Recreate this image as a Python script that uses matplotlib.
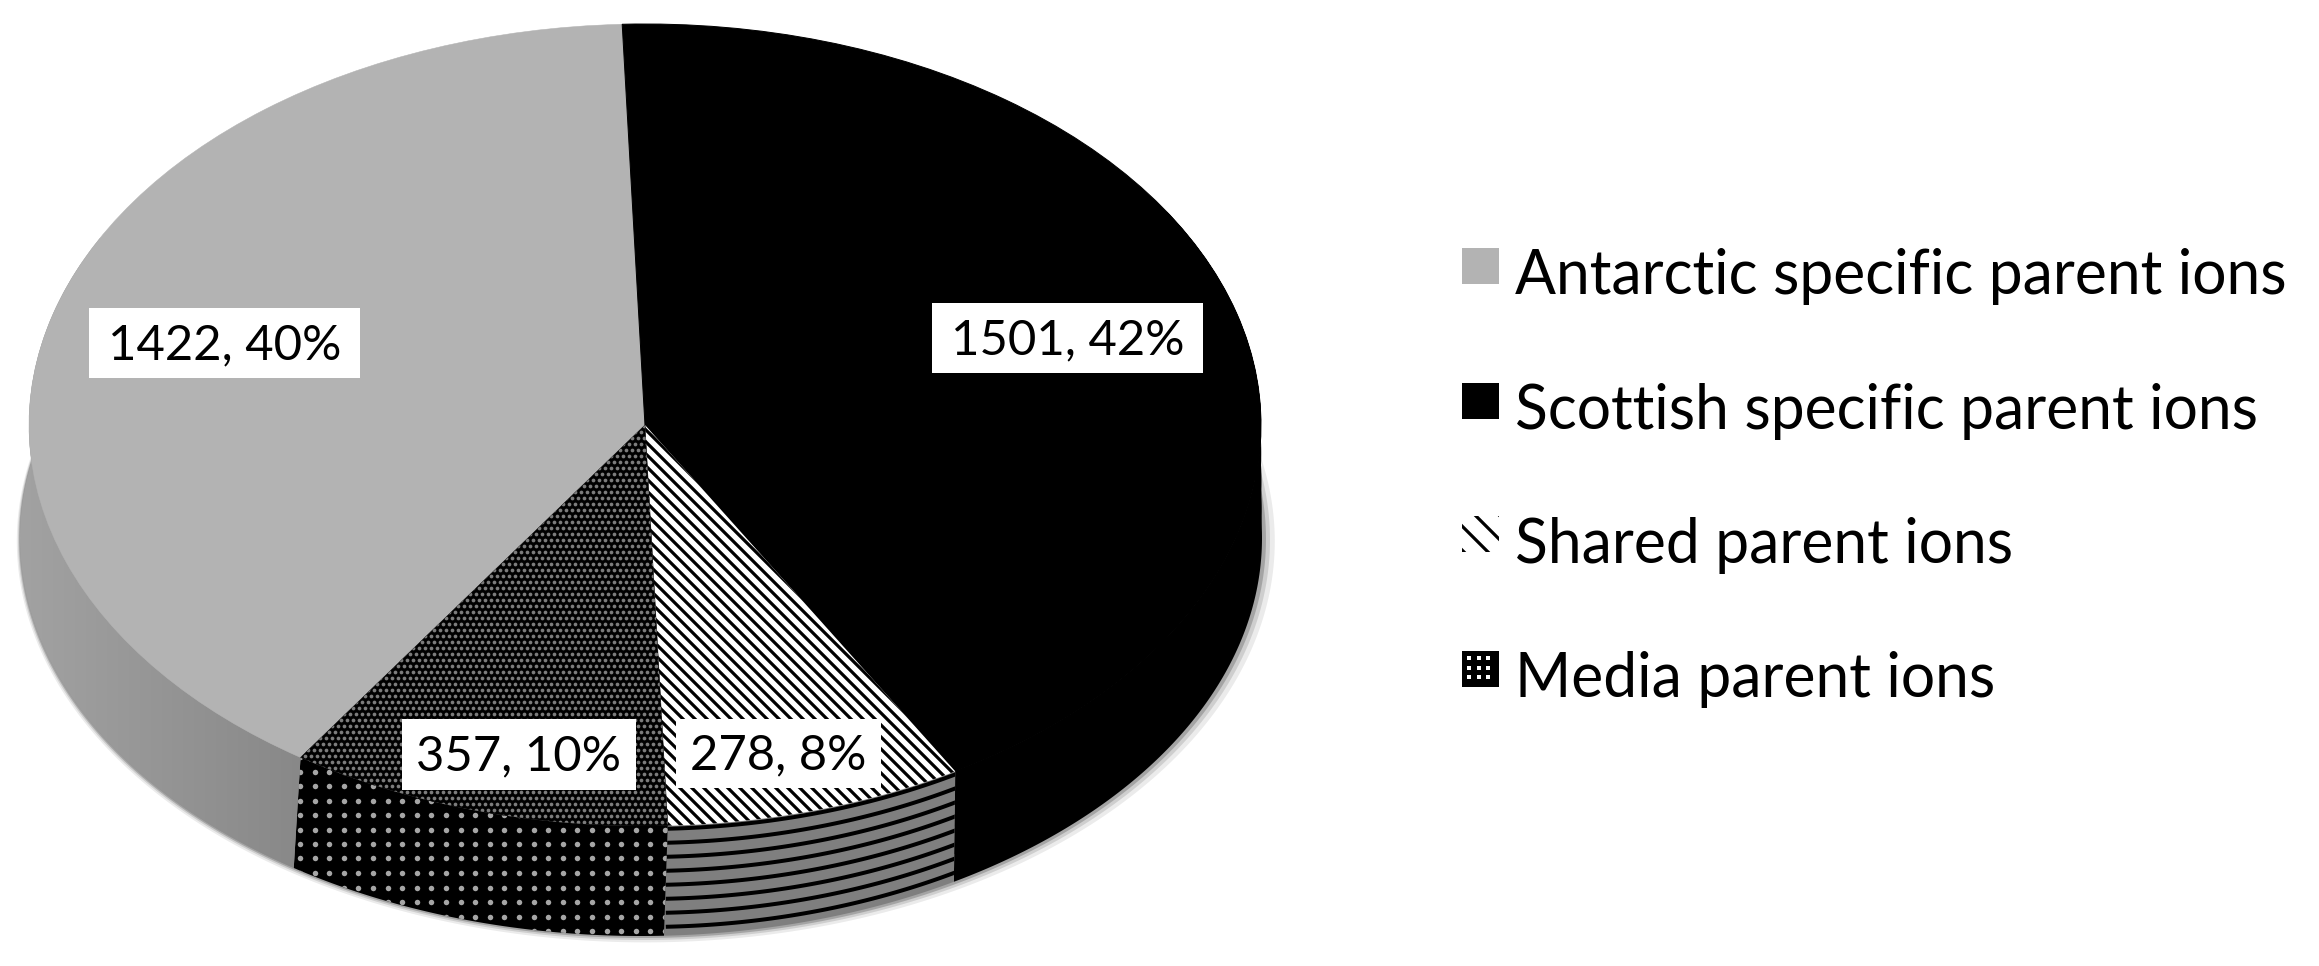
import numpy as np
import matplotlib
matplotlib.use("Agg")
import matplotlib.pyplot as plt
from matplotlib.colors import LinearSegmentedColormap
from matplotlib.patches import Rectangle

names = ["Antarctic specific parent ions", "Scottish specific parent ions",
         "Shared parent ions", "Media parent ions"]
counts = [1422, 1501, 278, 357]
percents = [40, 42, 8, 10]

W, H = 2319, 966
DPI = 72
cx, cy, rx, ry = 645, 425, 616, 401
# bottom rim of the disc
bx0, by0, brx, bry = 641, 538, 621, 398
start = 236

plt.rcParams["font.family"] = ["Lato", "DejaVu Sans"]
plt.rcParams["hatch.linewidth"] = 3.2

fig = plt.figure(figsize=(W / DPI, H / DPI), dpi=DPI, facecolor="white")
ax = fig.add_axes([0, 0, 1, 1])

# the pie itself, the axes limits squash the unit circle to an ellipse
wedges, _ = ax.pie(counts, startangle=start, counterclock=False, radius=1,
                   colors=["#b3b3b3", "#000000", "#ffffff", "#000000"])
wedges[0].set(edgecolor="#b3b3b3", linewidth=0.5)
wedges[1].set(edgecolor="black", linewidth=1)
wedges[2].set_hatch("\\\\")
wedges[2].set_edgecolor("black")
wedges[2].set_linewidth(0)
wedges[3].set(edgecolor="black", linewidth=0.5)
ax.axis("off")

# angles of the slices, from the counts
fracs = np.array(counts) / sum(counts) * 360
ends = start - np.cumsum(fracs)
starts = ends + fracs


def wall(a, b, f=1.0, **kw):
    # f is how far down the side the lower edge sits, 1 is the bottom rim
    t = np.radians(np.linspace(a, b, 200))
    lx = cx + f * (bx0 - cx) + (rx + f * (brx - rx)) * np.cos(t[::-1])
    ly = cy + f * (by0 - cy) - (ry + f * (bry - ry)) * np.sin(t[::-1])
    xs = np.r_[np.cos(t), (lx - cx) / rx]
    ys = np.r_[np.sin(t), (cy - ly) / ry]
    return ax.fill(xs, ys, zorder=0.5, lw=0, **kw)[0]


# soft shadow round the rim
t = np.radians(np.linspace(0, 360, 400))
for grow, alpha in [(8, 0.08), (5, 0.12), (2.5, 0.2)]:
    ax.fill((bx0 + grow * 0.6 - cx + (brx + grow) * np.cos(t)) / rx,
            (cy - by0 - grow * 0.4 + (bry + grow * 0.4) * np.sin(t)) / ry,
            color="black", alpha=alpha, lw=0, zorder=0.2)

# Antarctic side, grey gradient
p0 = wall(starts[0], ends[0] + 60, color="#909090")
grad = np.linspace(0, 1, 256).reshape(1, -1)
im = ax.imshow(grad, cmap=LinearSegmentedColormap.from_list("g", ["#a4a4a4", "#868686"]),
               extent=[-1.05, -0.52, -1.3, 0.4], aspect="auto", zorder=0.6)
im.set_clip_path(p0)

# Scottish side, the steps keep the outer edge straight where the rims cross
for f in [0.25, 0.5, 0.75, 1.0]:
    wall(starts[1] - 60, ends[1], f=f, color="black")

# Shared side, grey with black curves
p2 = wall(starts[2], ends[2], color="#7f7f7f")
t = np.radians(np.linspace(starts[2], ends[2], 100))
for d in np.arange(3, 190, 14):
    ln, = ax.plot(np.cos(t), np.sin(t) - d / ry, color="black", lw=4, zorder=0.7)
    ln.set_clip_path(p2)

# Media side, black with a grid of grey dots
p3 = wall(starts[3], ends[3], color="black")
gx, gy = np.meshgrid(np.arange(300, 680, 14.6), np.arange(757, 960, 14.5))
dots = ax.scatter((gx - cx) / rx, (cy - gy) / ry, s=30, marker="o", color="#a6a6a6",
                  lw=0, zorder=0.7)
dots.set_clip_path(p3)

# Media top, fine staggered dots
gx, gy = np.meshgrid(np.arange(290, 680, 6.0), np.arange(420, 840, 6.0))
gx[::2] += 3.0
fine = ax.scatter((gx - cx) / rx, (cy - gy) / ry, s=14, marker="o", color="#7c7c7c",
                  lw=0, zorder=1.5)
fine.set_clip_path(wedges[3])

ax.set_xlim((0 - cx) / rx, (W - cx) / rx)
ax.set_ylim((cy - H) / ry, cy / ry)
ax.set_aspect("auto")

# labels and legend drawn in pixel coordinates
ov = fig.add_axes([0, 0, 1, 1], facecolor="none")
ov.set_xlim(0, W)
ov.set_ylim(H, 0)
ov.axis("off")

boxes = [(89, 308, 271, 70), (932, 303, 271, 70), (676, 719, 205, 69), (402, 719, 234, 71)]
for i, (bx, by, bw, bh) in enumerate(boxes):
    ov.add_patch(Rectangle((bx, by), bw, bh, color="white", lw=0))
    ov.text(bx + bw / 2, by + bh / 2 + 2, "%d, %d%%" % (counts[i], percents[i]), ha="center",
            va="center", fontsize=49, color="black")

base_y = [294, 429, 563, 697]
swatch_y = [248, 383, 516, 651]
for name, y in zip(names, base_y):
    ov.text(1515, y, name, va="baseline", ha="left", fontsize=60.6, color="black")

ov.add_patch(Rectangle((1462, swatch_y[0]), 37, 36, color="#b3b3b3", lw=0))
ov.add_patch(Rectangle((1462, swatch_y[1]), 37, 36, color="black", lw=0))
ov.add_patch(Rectangle((1462, swatch_y[2]), 37, 36, facecolor="white", edgecolor="black",
                       hatch="\\", lw=0))
ov.add_patch(Rectangle((1462, swatch_y[3]), 37, 36, color="black", lw=0))
sx, sy = np.meshgrid(np.arange(1469, 1497, 9.5), np.arange(swatch_y[3] + 7, swatch_y[3] + 33, 9.5))
ov.scatter(sx, sy, s=16, marker="s", color="white", lw=0)

fig.savefig("out.png", dpi=DPI)
